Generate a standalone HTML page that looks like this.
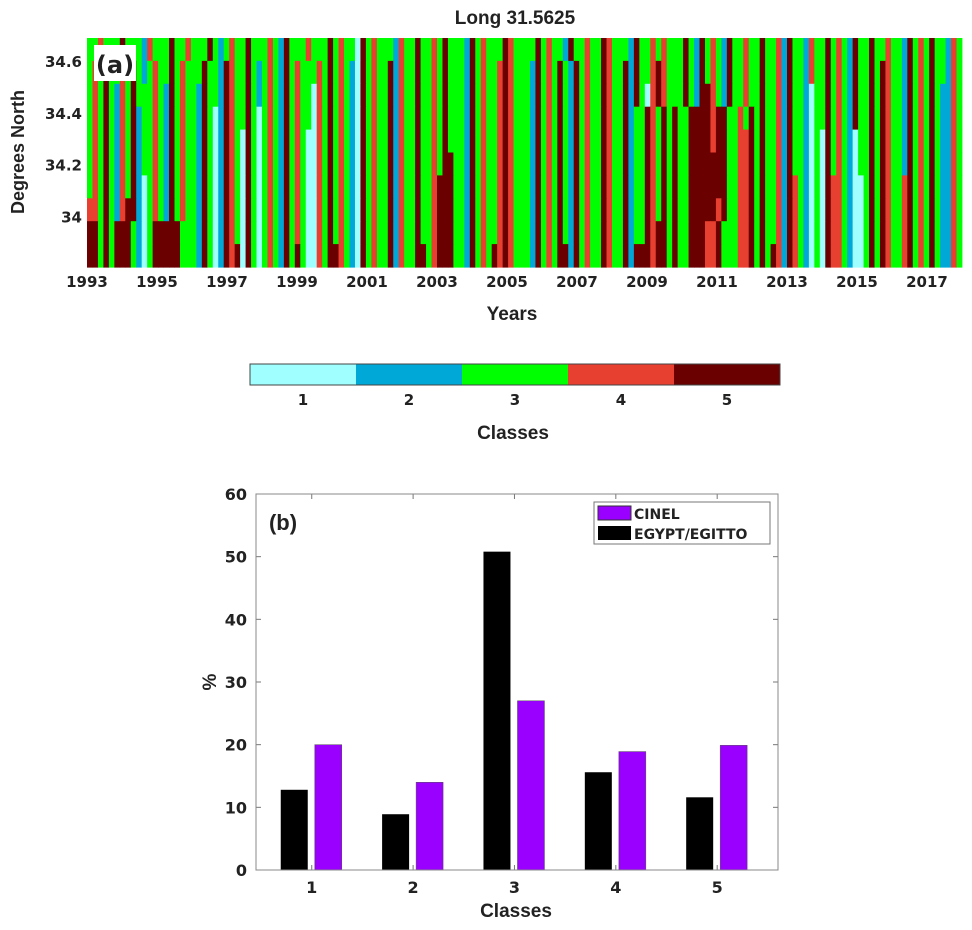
<!DOCTYPE html>
<html><head><meta charset="utf-8"><style>
body{margin:0;background:#fff;width:972px;height:925px;overflow:hidden;font-family:"Liberation Sans",sans-serif}
svg text{font-family:"DejaVu Sans","Liberation Sans",sans-serif;font-weight:bold;fill:#222}
</style></head><body>
<svg id="fig" width="972" height="925">
<g id="hm"></g>
<g id="cb"></g>
<g id="bc"></g>
</svg>
<script>
const NS="http://www.w3.org/2000/svg";
function mk(p,t,a,txt){const e=document.createElementNS(NS,t);for(const k in a)e.setAttribute(k,a[k]);if(txt!==undefined)e.textContent=txt;p.appendChild(e);return e;}
// ---------- Panel (a) data ----------
const classColors=["#a0ffff","#00a8d8","#00ff00","#e84030","#6a0000"];
const yearTicks=[1993,1995,1997,1999,2001,2003,2005,2007,2009,2011,2013,2015,2017];
const latTicks=[34,34.2,34.4,34.6];
const heatRows=[
"3343335333243335334333532343353334325333433353433153433324335334353332534333543333534332533433543332533434333532534325334335334253324335343253353343325343533243",
"3435334353234335343335332543353234325343334353432153433524335334353332534334543332534353253433543352533454333532534325334335334253324335343253353543325343533243",
"3435324353334325343325332543353234325343314353432153433524335334353332534334543332534353253433543352531454333532554325334335334253321335343253353543325343532243",
"3435324352334325343325312543353134325343314353432153433524335334353332534334543332534353253433543352335435353355554553343535334253321335343253353543325343532243",
"3435324352334325343325312543153134325343114353432153433524335334353332534334543332534353253433543352335435353355554553344535334253321315343213353543325343532243",
"3435324352334325343325312543153134325343114353432153433524335334355332534334543332534353253433543352335435353355555553344535334253321315343213353543325343532243",
"3435324352134325343325312543153134325343114353432153433524335334555332534334543332534353253433543352335435353355555553344535334254321315443211353543345343532243",
"4435324552134325343325312543153134325343114353432153433524335334555332534334543332534353253433543352335435353355555453344535334254321315443211353543345343532243",
"5535355532135555533325312543153134325343114353432153433524335334555332534334543332534353253433543352335455353355544533344535334254321315443211353543345343532243",
"5535355532135555533325312545153134325353114355432153433524335534555332534354543332534355253433543352555455353355544533344535354254321315443211353543345343532243"
];
const hm=document.getElementById('hm');
const hx0=87,hx1=962,hy0=38,hy1=267,latMin=33.81,latMax=34.692,yrMin=1993,yrMax=2018;
const xY=y=>hx0+(y-yrMin)/(yrMax-yrMin)*(hx1-hx0);
const yL=l=>hy1-(l-latMin)/(latMax-latMin)*(hy1-hy0);
const nR=heatRows.length;
heatRows.forEach((row,ri)=>{
  const nC=row.length, cw=(hx1-hx0)/nC, rh=(hy1-hy0)/nR;
  for(let ci=0;ci<nC;ci++){
    const c=mk(hm,'rect',{x:hx0+ci*cw,y:hy0+ri*rh,width:cw+0.4,height:rh+0.6,fill:classColors[+row[ci]-1]});
    
    
  }
});
let t=mk(hm,'rect',{x:94,y:45,width:42,height:36,fill:'#fff'});
t=mk(hm,'text',{x:115,y:73,'text-anchor':'middle','font-size':24},'(a)');
t=mk(hm,'text',{x:515,y:24,'text-anchor':'middle','font-size':19,style:'font-family:Liberation Sans'},'Long 31.5625');
yearTicks.forEach(y=>{const e=mk(hm,'text',{x:xY(y),y:287,'text-anchor':'middle','font-size':15},String(y));});
latTicks.forEach(l=>{const e=mk(hm,'text',{x:82,y:yL(l)+5,'text-anchor':'end','font-size':15},String(l));});
t=mk(hm,'text',{x:512,y:320,'text-anchor':'middle','font-size':19,style:'font-family:Liberation Sans'},'Years');
t=mk(hm,'text',{x:24,y:152,'text-anchor':'middle','font-size':18,transform:'rotate(-90 24 152)',style:'font-family:Liberation Sans'},'Degrees North');
// ---------- Colorbar ----------
const cbLabels=["1","2","3","4","5"];
const cb=document.getElementById('cb');const cx0=250,cx1=780,cw=(cx1-cx0)/5;
cbLabels.forEach((lab,i)=>{
  const r=mk(cb,'rect',{x:cx0+i*cw,y:364,width:cw,height:21,fill:classColors[i]});
  const e=mk(cb,'text',{x:cx0+(i+0.5)*cw,y:405,'text-anchor':'middle','font-size':15},lab);
});
t=mk(cb,'rect',{x:cx0,y:364,width:cx1-cx0,height:21,fill:'none',stroke:'#444','stroke-width':1});
t=mk(cb,'text',{x:513,y:439,'text-anchor':'middle','font-size':19,style:'font-family:Liberation Sans'},'Classes');
// ---------- Panel (b) data ----------
const categories=["1","2","3","4","5"];
const egyptVals=[12.8,8.9,50.8,15.6,11.6];
const cinelVals=[20.0,14.0,27.0,18.9,19.9];
const pctTicks=[0,10,20,30,40,50,60];
const bc=document.getElementById('bc');
const bx0=256,bx1=778,by0=494,by1=870,vMax=60;
const yV=v=>by1-v/vMax*(by1-by0);
const xC=i=>bx0+(i+0.55)*(bx1-bx0)/5.15;
categories.forEach((c,i)=>{
  const xc=xC(i);
  const b1=mk(bc,'rect',{x:xc-31,y:yV(egyptVals[i]),width:27,height:by1-yV(egyptVals[i]),fill:'#000'});
  
  const b2=mk(bc,'rect',{x:xc+3,y:yV(cinelVals[i]),width:27,height:by1-yV(cinelVals[i]),fill:'#9900ff',stroke:'#555','stroke-width':0.5});
  
  const e=mk(bc,'text',{x:xc,y:893,'text-anchor':'middle','font-size':16},c);
  mk(bc,'line',{x1:xc,x2:xc,y1:by1,y2:by1-5,stroke:'#777'});mk(bc,'line',{x1:xc,x2:xc,y1:by0,y2:by0+5,stroke:'#777'});
});
pctTicks.forEach(v=>{
  const e=mk(bc,'text',{x:247,y:yV(v)+6,'text-anchor':'end','font-size':16},String(v));
  mk(bc,'line',{x1:bx0,x2:bx0+5,y1:yV(v),y2:yV(v),stroke:'#777'});mk(bc,'line',{x1:bx1,x2:bx1-5,y1:yV(v),y2:yV(v),stroke:'#777'});
});
t=mk(bc,'rect',{x:bx0,y:by0,width:bx1-bx0,height:by1-by0,fill:'none',stroke:'#888','stroke-width':1});
t=mk(bc,'text',{x:283,y:530,'text-anchor':'middle','font-size':22,style:'font-family:Liberation Sans'},'(b)');
t=mk(bc,'text',{x:516,y:917,'text-anchor':'middle','font-size':19,style:'font-family:Liberation Sans'},'Classes');
t=mk(bc,'text',{x:216,y:682,'text-anchor':'middle','font-size':19,transform:'rotate(-90 216 682)',style:'font-family:Liberation Sans'},'%');
const lg=mk(bc,'g',{});
mk(lg,'rect',{x:594,y:502,width:176,height:42,fill:'#fff',stroke:'#777'});
mk(lg,'rect',{x:598,y:506,width:33,height:14,fill:'#9900ff',stroke:'#333'});
t=mk(lg,'text',{x:634,y:519,'font-size':14},'CINEL');
mk(lg,'rect',{x:598,y:526,width:33,height:14,fill:'#000'});
t=mk(lg,'text',{x:634,y:539,'font-size':14},'EGYPT/EGITTO');
</script>
</body></html>
